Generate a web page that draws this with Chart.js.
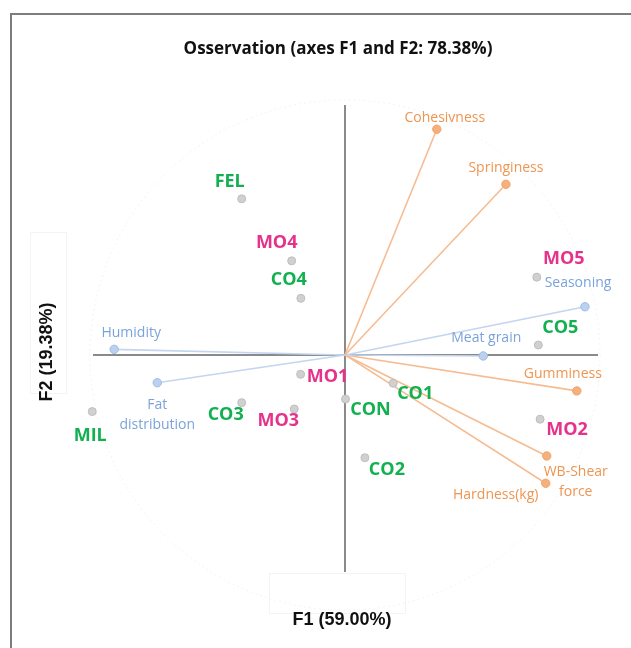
<!DOCTYPE html>
<html><head><meta charset="utf-8">
<script src="https://cdn.jsdelivr.net/npm/chart.js@4.4.1/dist/chart.umd.min.js"></script>
<style>html,body{margin:0;padding:0;background:#fff;} #wrap{width:631px;height:648px;}</style>
</head><body><div id="wrap"><canvas id="c" width="631" height="648"></canvas></div>
<script>
// ---- Data ----
const chartTitle = 'Osservation (axes F1 and F2: 78.38%)';
const xAxisTitle = 'F1 (59.00%)';
const yAxisTitle = 'F2 (19.38%)';

const obsNames = ['FEL','MO4','CO4','MO1','CO3','MO3','MIL','CON','CO1','CO2','MO2','CO5','MO5'];
const obsF1 = [-0.405,-0.209,-0.173,-0.174,-0.405,-0.199,-0.991,0.002,0.189,0.078,0.765,0.758,0.752];
const obsF2 = [0.612,0.369,0.222,-0.076,-0.187,-0.212,-0.222,-0.173,-0.111,-0.403,-0.252,0.039,0.305];

const varNames = ['Cohesivness','Springiness','Seasoning','Meat grain','Gumminess','WB-Shear force','Hardness(kg)','Humidity','Fat distribution'];
const varF1 = [0.360,0.631,0.941,0.542,0.909,0.791,0.787,-0.905,-0.736];
const varF2 = [0.885,0.669,0.189,-0.004,-0.141,-0.396,-0.503,0.022,-0.109];
const varGroup = ['texture','texture','sensory','sensory','texture','texture','texture','sensory','sensory'];

// ---- Layout / style ----
const obsLabelOffset = {FEL:[-12,-17], MO4:[-15,-18], CO4:[-12,-18], MO1:[27,3], CO3:[-16,12], MO3:[-16,12], MIL:[-2,24], CON:[25,11], CO1:[22,11], CO2:[22,12], MO2:[27,11], CO5:[22,-17], MO5:[27,-18]};
const varLabelLayout = {
  'Cohesivness':{dx:8,dy:-11}, 'Springiness':{dx:0,dy:-16}, 'Seasoning':{dx:-7,dy:-24},
  'Meat grain':{dx:3,dy:-18}, 'Gumminess':{dx:-14,dy:-17},
  'WB-Shear force':{dx:29,dy:26,lines:['WB-Shear','force']},
  'Hardness(kg)':{dx:-50,dy:12}, 'Humidity':{dx:17,dy:-16},
  'Fat distribution':{dx:0,dy:32,lines:['Fat','distribution']}
};
const groupStyle = {
  texture:{line:'#F6BC91', point:'#F5B07C', pointBorder:'#F2A46A', text:'#EE9552'},
  sensory:{line:'#C3D5F0', point:'#BCD1F0', pointBorder:'#9DBBE5', text:'#7BA3DB'}
};
const GREEN = '#12B050', PINK = '#E5338B';

const datasets = [];
datasets.push({
  label:'Observations',
  data: obsNames.map((n,i)=>({x:obsF1[i], y:obsF2[i]})),
  pointRadius:4, pointBackgroundColor:'#D0D0D0', pointBorderColor:'#BEBEBE', pointBorderWidth:1,
  showLine:false, clip:false, order:0
});
varNames.forEach((n,i)=>{
  const st = groupStyle[varGroup[i]];
  datasets.push({
    label:n,
    data:[{x:0,y:0},{x:varF1[i],y:varF2[i]}],
    showLine:true, borderColor:st.line, borderWidth:1.6,
    pointRadius:[0,4.2], pointBackgroundColor:st.point, pointBorderColor:st.pointBorder, pointBorderWidth:1,
    clip:false, order:1
  });
});

const decor = {
  id:'decor',
  beforeDatasetsDraw(chart){
    const {ctx, chartArea:a, scales:{x,y}} = chart;
    ctx.save();
    // outer frame
    ctx.strokeStyle='#7d7d7d'; ctx.lineWidth=2;
    ctx.beginPath(); ctx.moveTo(11,660); ctx.lineTo(11,14); ctx.lineTo(640,14); ctx.stroke();
    // faint label boxes
    ctx.strokeStyle='#f4f4f4'; ctx.lineWidth=1;
    ctx.strokeRect(30.5,232.5,36,161);
    ctx.strokeRect(269.5,573.5,136,40);
    // correlation circle
    const cx=x.getPixelForValue(0), cy=y.getPixelForValue(0);
    const r = x.getPixelForValue(1)-cx;
    ctx.strokeStyle='#f2f2f2'; ctx.setLineDash([2,3]);
    ctx.beginPath(); ctx.arc(cx,cy,r,0,Math.PI*2); ctx.stroke();
    ctx.setLineDash([]);
    // axes through origin
    ctx.strokeStyle='#8a8a8a'; ctx.lineWidth=2;
    ctx.beginPath(); ctx.moveTo(a.left,cy); ctx.lineTo(a.right,cy); ctx.stroke();
    ctx.beginPath(); ctx.moveTo(cx,a.top); ctx.lineTo(cx,a.bottom); ctx.stroke();
    ctx.restore();
  },
  afterDatasetsDraw(chart){
    const {ctx, scales:{x,y}} = chart;
    ctx.save();
    ctx.textAlign='center'; ctx.textBaseline='middle';
    // variable labels
    ctx.font='14px "Open Sans"';
    varNames.forEach((n,i)=>{
      const L = varLabelLayout[n]; const st = groupStyle[varGroup[i]];
      const px=x.getPixelForValue(varF1[i]), py=y.getPixelForValue(varF2[i]);
      ctx.fillStyle=st.text;
      const lines = L.lines || [n];
      const lh=20, y0 = py+L.dy-(lines.length-1)*lh/2;
      lines.forEach((t,k)=>ctx.fillText(t, px+L.dx, y0+k*lh));
    });
    // observation labels
    ctx.font='bold 18px "Open Sans"';
    obsNames.forEach((n,i)=>{
      const o = obsLabelOffset[n];
      const px=x.getPixelForValue(obsF1[i]), py=y.getPixelForValue(obsF2[i]);
      ctx.fillStyle = n.startsWith('MO') ? PINK : GREEN;
      ctx.fillText(n, px+o[0], py+o[1]);
    });
    // titles
    ctx.fillStyle='#111';
    ctx.font='bold 17px "Open Sans"';
    ctx.fillText(chartTitle, 338, 49);
    ctx.font='bold 18px "Liberation Sans"';
    ctx.fillText(xAxisTitle, 342, 620);
    ctx.translate(47,352); ctx.rotate(-Math.PI/2);
    ctx.fillText(yAxisTitle, 0, 0);
    ctx.restore();
  }
};

new Chart(document.getElementById('c'), {
  type:'scatter',
  data:{datasets},
  options:{
    responsive:false, animation:false, devicePixelRatio:1,
    layout:{padding:{left:93,right:33,top:105,bottom:76}},
    scales:{
      x:{type:'linear', min:-0.988, max:0.992, display:false},
      y:{type:'linear', min:-0.851, max:0.980, display:false}
    },
    plugins:{legend:{display:false}, tooltip:{enabled:false}, title:{display:false}}
  },
  plugins:[decor]
});
</script></body></html>
